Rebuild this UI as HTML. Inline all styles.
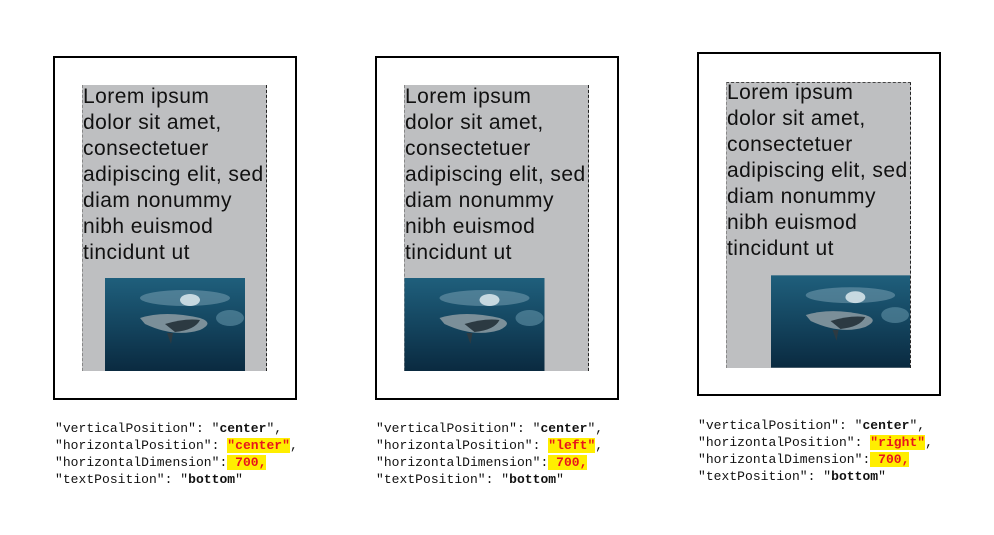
<!DOCTYPE html>
<html><head><meta charset="utf-8"><style>
body{margin:0;width:994px;height:535px;background:#fff;position:relative;overflow:hidden}
.o{position:absolute;width:240px;height:340px;border:2px solid #000;box-sizing:content-box}
.g{position:absolute;background:#bebfc1;border-right:1.5px dashed #222;border-left:1px dashed #888;width:185px;height:286px;box-sizing:border-box}
.t{position:absolute;font-family:"Liberation Sans",sans-serif;font-size:21px;line-height:26px;color:#111;white-space:pre;letter-spacing:0.45px}
.im{position:absolute;width:140px;height:93px}
.c{position:absolute;font-family:"Liberation Mono",monospace;font-size:13px;line-height:17px;white-space:pre;color:#111;letter-spacing:0.03px}
.c b{font-weight:bold}
.h{background:#ffee00;color:#e8141c;font-weight:bold}
</style></head><body>
<svg width="0" height="0" style="position:absolute"><defs>
<linearGradient id="sea" x1="0" y1="0" x2="0" y2="1"><stop offset="0" stop-color="#1f5f7c"/><stop offset="0.5" stop-color="#14455f"/><stop offset="1" stop-color="#0a2a40"/></linearGradient>
<symbol id="wh" viewBox="0 0 140 93">
<rect width="140" height="93" fill="url(#sea)"/>
<ellipse cx="80" cy="20" rx="45" ry="8" fill="#7fa6b8" opacity="0.5"/>
<ellipse cx="85" cy="22" rx="10" ry="6" fill="#e6f0f4" opacity="0.8"/>
<ellipse cx="125" cy="40" rx="14" ry="8" fill="#6f9fb4" opacity="0.5"/>
<path d="M35 40 Q60 32 95 40 Q110 45 95 52 Q70 60 40 46 Z" fill="#7b8f99"/>
<path d="M60 46 Q80 40 95 42 Q90 52 70 54 Z" fill="#2c3a42"/>
<path d="M62 55 L66 66 L68 55 Z" fill="#2c3a42"/>
</symbol></defs></svg>

<div class="o" style="left:53px;top:56px"></div>
<div class="g" style="left:82px;top:85px"></div>
<div class="t" style="left:83px;top:84px">Lorem ipsum
dolor sit amet,
consectetuer
adipiscing elit, sed
diam nonummy
nibh euismod
tincidunt ut</div>
<svg class="im" style="left:105px;top:278px"><use href="#wh"/></svg>
<div class="c" style="left:55px;top:420px">"verticalPosition": "<b>center</b>",
"horizontalPosition": <span class="h">"center"</span>,
"horizontalDimension":<span class="h"> 700,</span>
"textPosition": "<b>bottom</b>"</div>

<div class="o" style="left:375px;top:56px"></div>
<div class="g" style="left:404px;top:85px"></div>
<div class="t" style="left:405px;top:84px">Lorem ipsum
dolor sit amet,
consectetuer
adipiscing elit, sed
diam nonummy
nibh euismod
tincidunt ut</div>
<svg class="im" style="left:404px;top:278px;width:141px"><use href="#wh"/></svg>
<div class="c" style="left:376px;top:420px">"verticalPosition": "<b>center</b>",
"horizontalPosition": <span class="h">"left"</span>,
"horizontalDimension":<span class="h"> 700,</span>
"textPosition": "<b>bottom</b>"</div>

<div class="o" style="left:697px;top:52px"></div>
<div class="g" style="left:726px;top:82px;border-top:1px dashed #444"></div>
<div class="t" style="left:727px;top:80px">Lorem ipsum
dolor sit amet,
consectetuer
adipiscing elit, sed
diam nonummy
nibh euismod
tincidunt ut</div>
<svg class="im" style="left:771px;top:275px;width:139px"><use href="#wh"/></svg>
<div class="c" style="left:698px;top:417px">"verticalPosition": "<b>center</b>",
"horizontalPosition": <span class="h">"right"</span>,
"horizontalDimension":<span class="h"> 700,</span>
"textPosition": "<b>bottom</b>"</div>
</body></html>
